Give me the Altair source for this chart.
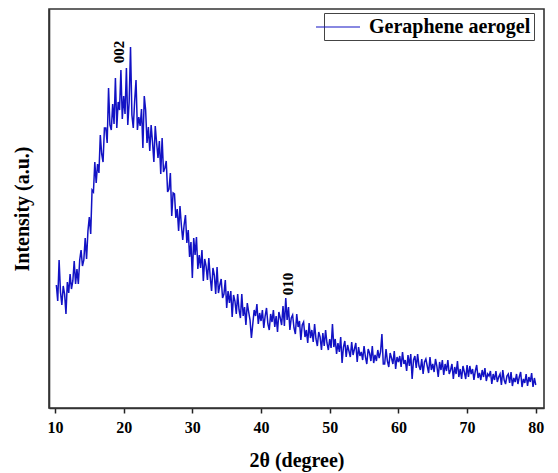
import altair as alt
import numpy as np
import pandas as pd

# 2-theta grid of the scan (0.2 degree step, 10.2 to 80.0 degrees)
theta_start, theta_step = 10.2, 0.2

# Intensity (a.u.) along the scan, grouped by 10-degree span
intensity_10_20 = [
    123, 107, 148, 116, 103, 122, 114, 94, 126, 115,
    134, 119, 127, 147, 124, 139, 124, 148, 158, 142,
    148, 170, 149, 177, 191, 174, 218, 216, 246, 225,
    244, 235, 273, 254, 246, 280, 280, 265, 320, 283,
    278, 304, 284, 330, 280, 306, 298, 338, 289, 312,
]
intensity_20_30 = [
    294, 340, 283, 306, 361, 293, 280, 307, 328, 278,
    291, 282, 299, 260, 312, 298, 265, 281, 257, 283,
    266, 246, 282, 265, 250, 267, 234, 270, 236, 240,
    247, 216, 219, 235, 192, 215, 214, 190, 199, 177,
    202, 183, 168, 183, 193, 165, 178, 151, 166, 130,
]
intensity_30_40 = [
    170, 153, 171, 139, 153, 140, 158, 127, 149, 142,
    128, 150, 131, 117, 140, 133, 114, 141, 115, 123,
    129, 110, 114, 128, 100, 117, 105, 117, 91, 113,
    107, 94, 114, 98, 90, 114, 92, 101, 83, 105,
    96, 88, 70, 84, 98, 92, 104, 84, 95, 87,
]
intensity_40_50 = [
    98, 80, 92, 100, 84, 78, 94, 86, 98, 81,
    92, 76, 96, 90, 83, 102, 82, 110, 88, 101,
    78, 90, 93, 80, 74, 94, 81, 87, 68, 83,
    86, 71, 78, 65, 85, 70, 78, 66, 84, 69,
    62, 76, 71, 58, 75, 62, 78, 65, 58, 69,
]
intensity_50_60 = [
    60, 84, 61, 69, 54, 65, 56, 71, 45, 61,
    67, 51, 63, 57, 51, 66, 53, 59, 65, 46,
    61, 52, 56, 48, 62, 51, 44, 59, 55, 47,
    62, 45, 53, 47, 58, 50, 56, 74, 44, 44,
    59, 47, 41, 55, 50, 44, 57, 39, 51, 46,
]
intensity_60_70 = [
    52, 41, 56, 44, 48, 37, 53, 42, 54, 29,
    48, 52, 40, 54, 42, 38, 49, 34, 46, 49,
    42, 35, 51, 38, 44, 36, 49, 42, 31, 46,
    38, 48, 33, 44, 37, 48, 34, 38, 44, 29,
    41, 34, 47, 31, 39, 29, 42, 36, 29, 43,
]
intensity_70_80 = [
    31, 42, 34, 39, 28, 37, 43, 30, 35, 28,
    38, 31, 40, 27, 34, 32, 37, 24, 34, 28,
    37, 26, 31, 34, 23, 38, 28, 24, 32, 34,
    25, 36, 22, 30, 26, 34, 24, 31, 36, 21,
    29, 25, 34, 22, 31, 26, 35, 21, 30, 23,
]

intensity = (intensity_10_20 + intensity_20_30 + intensity_30_40 + intensity_40_50
             + intensity_50_60 + intensity_60_70 + intensity_70_80)
two_theta = np.round(theta_start + theta_step * np.arange(len(intensity)), 2)

sample_name = "Geraphene aerogel"
line_color = "#1212c4"

# Reflection labels
peak_labels = ["002", "010"]
peak_angle = [19.3, 43.9]
peak_height = [356, 124]

# Axis ticks
tick_values = [10, 15, 20, 25, 30, 35, 40, 45, 50, 55, 60, 65, 70, 75, 80]

scan = pd.DataFrame({"two_theta": two_theta, "intensity": intensity, "sample": sample_name})
peaks = pd.DataFrame({"label": peak_labels, "two_theta": peak_angle, "intensity": peak_height})

serif = "Liberation Serif"

x_scale = alt.Scale(domain=[9.13, 81.2], nice=False, zero=False)
y_scale = alt.Scale(domain=[0, 399], nice=False, zero=False)

line = alt.Chart(scan).mark_line(strokeWidth=1.5, interpolate="linear").encode(
    x=alt.X(
        "two_theta:Q",
        scale=x_scale,
        axis=alt.Axis(
            title="2θ (degree)",
            values=tick_values,
            labelExpr="datum.value % 10 == 0 ? datum.label : ''",
            tickSize=5,
            tickWidth=1.5,
            tickColor="#222",
            labelPadding=6,
            titlePadding=15,
            grid=False,
        ),
    ),
    y=alt.Y(
        "intensity:Q",
        scale=y_scale,
        axis=alt.Axis(
            title="Intensity (a.u.)",
            labels=False,
            ticks=False,
            grid=False,
            titlePadding=17,
        ),
    ),
    color=alt.Color(
        "sample:N",
        scale=alt.Scale(domain=[sample_name], range=[line_color]),
        legend=alt.Legend(
            title=None,
            orient="none",
            legendX=275,
            legendY=4,
            symbolType="M-2.2,0H2.2",
            symbolSize=400,
            symbolStrokeWidth=1.2,
            symbolStrokeColor=line_color,
            labelFont=serif,
            labelFontWeight="bold",
            labelFontSize=20,
            labelColor="black",
            labelOffset=20,
            labelLimit=0,
            strokeColor="#444",
            fillColor="white",
            padding=3,
        ),
    ),
)

labels = alt.Chart(peaks).mark_text(
    angle=270, font=serif, fontWeight="bold", fontSize=15, color="black",
    align="center", baseline="middle",
).encode(
    x=alt.X("two_theta:Q", scale=x_scale),
    y=alt.Y("intensity:Q", scale=y_scale),
    text="label:N",
)

chart = (
    alt.layer(line, labels)
    .properties(
        width=495,
        height=399,
        autosize=alt.AutoSizeParams(type="none"),
        padding={"left": 49, "top": 9, "right": 14, "bottom": 65},
        background="white",
    )
    .configure_view(stroke="#333", strokeWidth=1.6)
    .configure_axis(
        domainColor="#333",
        domainWidth=1.6,
        labelFont=serif,
        labelFontWeight="bold",
        labelFontSize=16,
        labelColor="black",
        titleFont=serif,
        titleFontWeight="bold",
        titleFontSize=20,
        titleColor="black",
    )
)

chart.save("out.html", embed_options={"renderer": "svg", "actions": False})
